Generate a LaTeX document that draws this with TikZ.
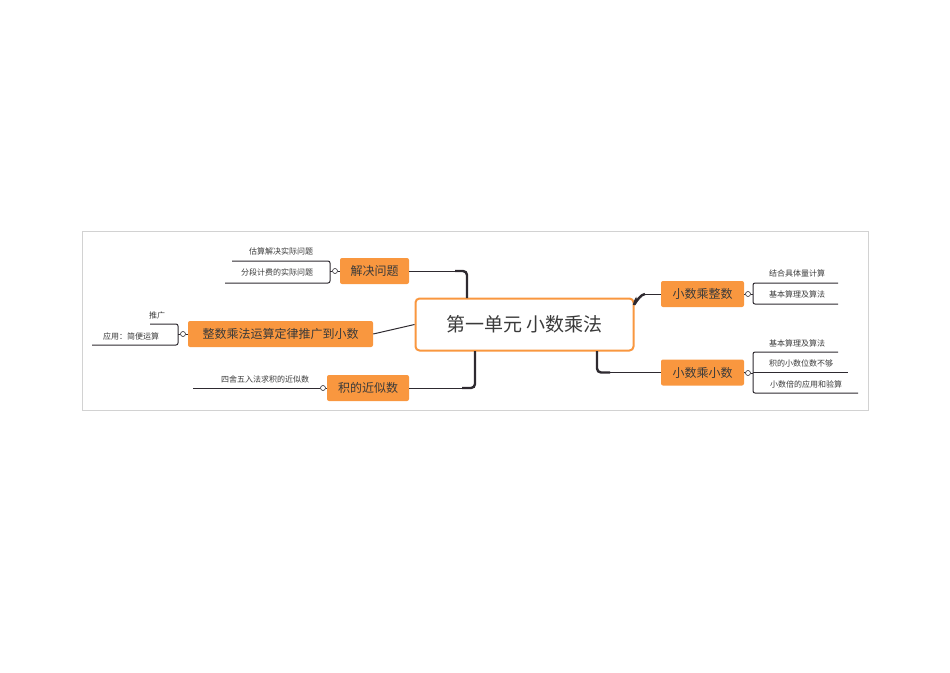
\documentclass[tikz,border=0pt]{standalone}
\usepackage{fontspec}
\setmainfont{Noto Sans CJK SC}
\begin{document}
\begin{tikzpicture}[x=1pt,y=-1pt,
  topic/.style={fill=orng,rounded corners=2pt,text=txt,inner sep=0pt,font=\fontsize{12}{14}\selectfont},
  leaf/.style={text=txt,font=\fontsize{8}{10}\selectfont,inner sep=0pt},
  trunk/.style={draw=ln,line width=2.4pt,rounded corners=4pt},
  thin/.style={draw=ln,line width=1pt},
  dot/.style={circle,draw=ln,fill=white,line width=0.6pt,inner sep=0pt,minimum size=5pt}]
\definecolor{orng}{HTML}{F9973F}
\definecolor{txt}{HTML}{3A3A3A}
\definecolor{ln}{HTML}{2E2A30}
\useasboundingbox (0,0) rectangle (950,672);
\draw[gray!35,line width=0.6pt] (82,231) rectangle (868,410);
% center
\node[draw=orng,line width=2pt,fill=white,rounded corners=4pt,minimum width=218pt,minimum height=52pt,text=txt,font=\fontsize{19}{22}\selectfont] (c) at (524.5,324.5) {第一单元 小数乘法};
% topics
\node[topic,minimum width=83pt,minimum height=26pt] (r1) at (702.5,294) {小数乘整数};
\node[topic,minimum width=83pt,minimum height=26pt] (r2) at (702.5,372.5) {小数乘小数};
\node[topic,minimum width=69pt,minimum height=26pt] (l1) at (374.5,271) {解决问题};
\node[topic,minimum width=185pt,minimum height=26pt] (l2) at (280.5,334) {整数乘法运算定律推广到小数};
\node[topic,minimum width=82pt,minimum height=26pt] (l3) at (368,388) {积的近似数};
% connectors
\coordinate (cr1) at (634,305);
\coordinate (cb2) at (597,351);
\coordinate (ct1) at (467,298);
\coordinate (cb3) at (475,351);
\draw[trunk] (cr1) -- (636,298) to[out=-90,in=180] (645,294);
\draw[thin] (645,294) -- (r1.west);
\draw[trunk] (cb2) -- (597,372.5) -- (610,372.5);
\draw[thin] (610,372.5) -- (r2.west);
\draw[trunk] (ct1) -- (467,271) -- (455,271);
\draw[thin] (455,271) -- (l1.east);
\draw[trunk] (cb3) -- (475,388) -- (462,388);
\draw[thin] (462,388) -- (l3.east);
\draw[thin] (c.west) -- (l2.east);
% leaves left
\node[dot] (d1) at (335,271) {};
\draw[thin] (l1.west) -- (d1);
\draw[thin,rounded corners=2pt] (232,261) -- (330,261) -- (330,283) -- (225,283);
\draw[thin] (d1) -- (330,271);
\node[leaf] (t11) at (281,251) {估算解决实际问题};
\node[leaf] (t12) at (277,272) {分段计费的实际问题};
\node[dot] (d2) at (183,334) {};
\draw[thin] (l2.west) -- (d2);
\draw[thin,rounded corners=2pt] (150,324) -- (178,324) -- (178,345) -- (92,345);
\draw[thin] (d2) -- (178,334);
\node[leaf] (t21) at (157,315) {推广};
\node[leaf] (t22) at (131,336) {应用：简便运算};
\node[dot] (d3) at (323,388) {};
\draw[thin] (l3.west) -- (d3);
\draw[thin] (d3) -- (193,388);
\node[leaf] (t31) at (265,379) {四舍五入法求积的近似数};
% leaves right
\node[dot] (d4) at (748,294) {};
\draw[thin] (r1.east) -- (d4);
\draw[thin,rounded corners=2pt] (838,283) -- (753,283) -- (753,304) -- (838,304);
\draw[thin] (d4) -- (753,294);
\node[leaf] (t41) at (797,273) {结合具体量计算};
\node[leaf] (t42) at (797,294) {基本算理及算法};
\node[dot] (d5) at (748,373) {};
\draw[thin] (r2.east) -- (d5);
\draw[thin,rounded corners=2pt] (838,352) -- (753,352) -- (753,393) -- (858,393);
\draw[thin] (753,372) -- (848,372);
\draw[thin] (d5) -- (753,373);
\node[leaf] (t51) at (797,343) {基本算理及算法};
\node[leaf] (t52) at (801,363) {积的小数位数不够};
\node[leaf] (t53) at (806,384) {小数倍的应用和验算};
\end{tikzpicture}
\end{document}
